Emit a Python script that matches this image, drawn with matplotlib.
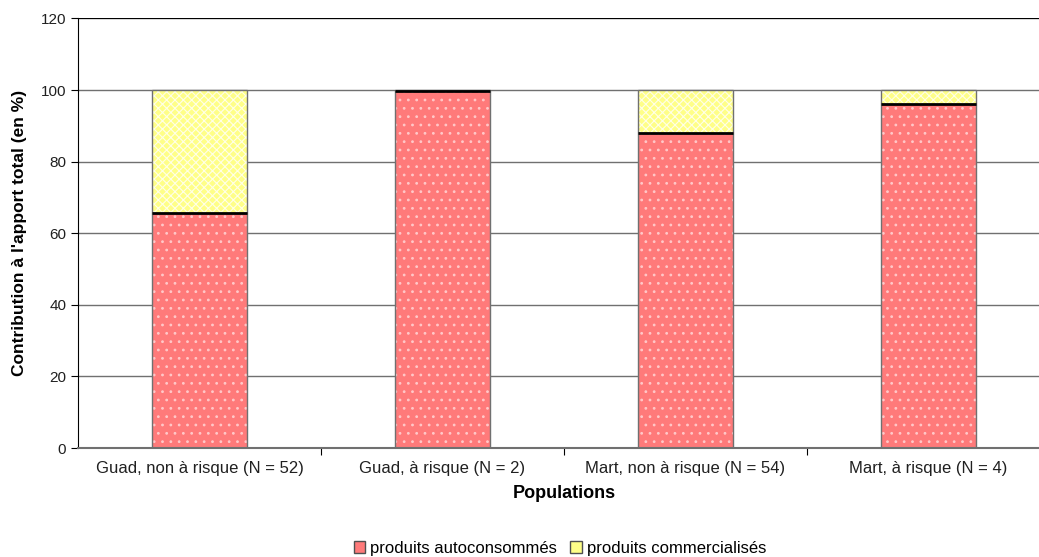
import matplotlib.pyplot as plt
from matplotlib.patches import Rectangle
import matplotlib as mpl

plt.rcParams['font.family'] = ['Liberation Sans', 'DejaVu Sans']
mpl.rcParams['hatch.linewidth'] = 0.8

populations = ["Guad, non à risque (N = 52)", "Guad, à risque (N = 2)",
               "Mart, non à risque (N = 54)", "Mart, à risque (N = 4)"]
autoconsommes = [65.6, 99.7, 88.0, 96.0]
commercialises = [34.4, 0.3, 12.0, 4.0]

rouge = "#FF7A7A"
jaune = "#FFFF88"

fig = plt.figure(figsize=(10.39, 5.57), dpi=100)
ax = fig.add_axes([78/1039, 109/557, 972/1039, 429.6/557])

x = range(len(populations))
larg = 0.395

# segments du bas (rouge pointillé) et du haut (jaune quadrillé)
ax.bar(x, autoconsommes, width=larg, color=rouge, hatch="..", edgecolor="#FFC8C8",
       linewidth=0, zorder=2)
ax.bar(x, commercialises, bottom=autoconsommes, width=larg, color=jaune, hatch="xxxx",
       edgecolor="#FFFFE8", linewidth=0, zorder=2)
# contours gris
ax.bar(x, [a + c for a, c in zip(autoconsommes, commercialises)], width=larg,
       fill=False, edgecolor="#707070", linewidth=1.0, zorder=3)
# trait noir entre les deux segments
for i, a in enumerate(autoconsommes):
    ax.plot([i - larg/2, i + larg/2], [a, a], color="black", linewidth=2, zorder=4,
            solid_capstyle="butt")

ax.set_xlim(-0.5, len(populations) - 0.5)
ax.set_ylim(0, 120)
ax.set_yticks(range(0, 121, 20))
ax.yaxis.grid(True, color="#707070", linewidth=1.0, zorder=0)
ax.set_axisbelow(True)

ax.set_xticks([i - 0.5 for i in range(1, len(populations))])
ax.set_xticklabels([])
ax.set_xticks(list(x), minor=True)
ax.set_xticklabels(populations, minor=True, fontsize=12, color="#202020")
ax.tick_params(axis="x", which="minor", length=0, pad=9)
ax.tick_params(axis="x", which="major", length=5, direction="out", color="black")
ax.tick_params(axis="y", length=5, direction="out", labelsize=11, color="black",
               labelcolor="#202020")

for s in ["top", "right"]:
    ax.spines[s].set_visible(False)
ax.spines["left"].set_color("black")
ax.spines["bottom"].set_color("#707070")
ax.spines["bottom"].set_linewidth(1.5)
ax.axhline(120, color="black", linewidth=1.5, zorder=1)

ax.set_ylabel("Contribution à l'apport total (en %)", fontsize=12.5, fontweight="bold",
              labelpad=10)
ax.set_xlabel("Populations", fontsize=13, fontweight="bold", labelpad=7)

handles = [Rectangle((0, 0), 1, 1, facecolor=rouge, edgecolor="#505050"),
           Rectangle((0, 0), 1, 1, facecolor=jaune, edgecolor="#505050")]
fig.legend(handles, ["produits autoconsommés", "produits commercialisés"],
           loc="center", bbox_to_anchor=(560/1039, 1 - 548/557), ncol=2, frameon=False,
           fontsize=12, handlelength=0.7, handleheight=0.7, handletextpad=0.3,
           columnspacing=0.8)

fig.savefig("out.png", dpi=100)
